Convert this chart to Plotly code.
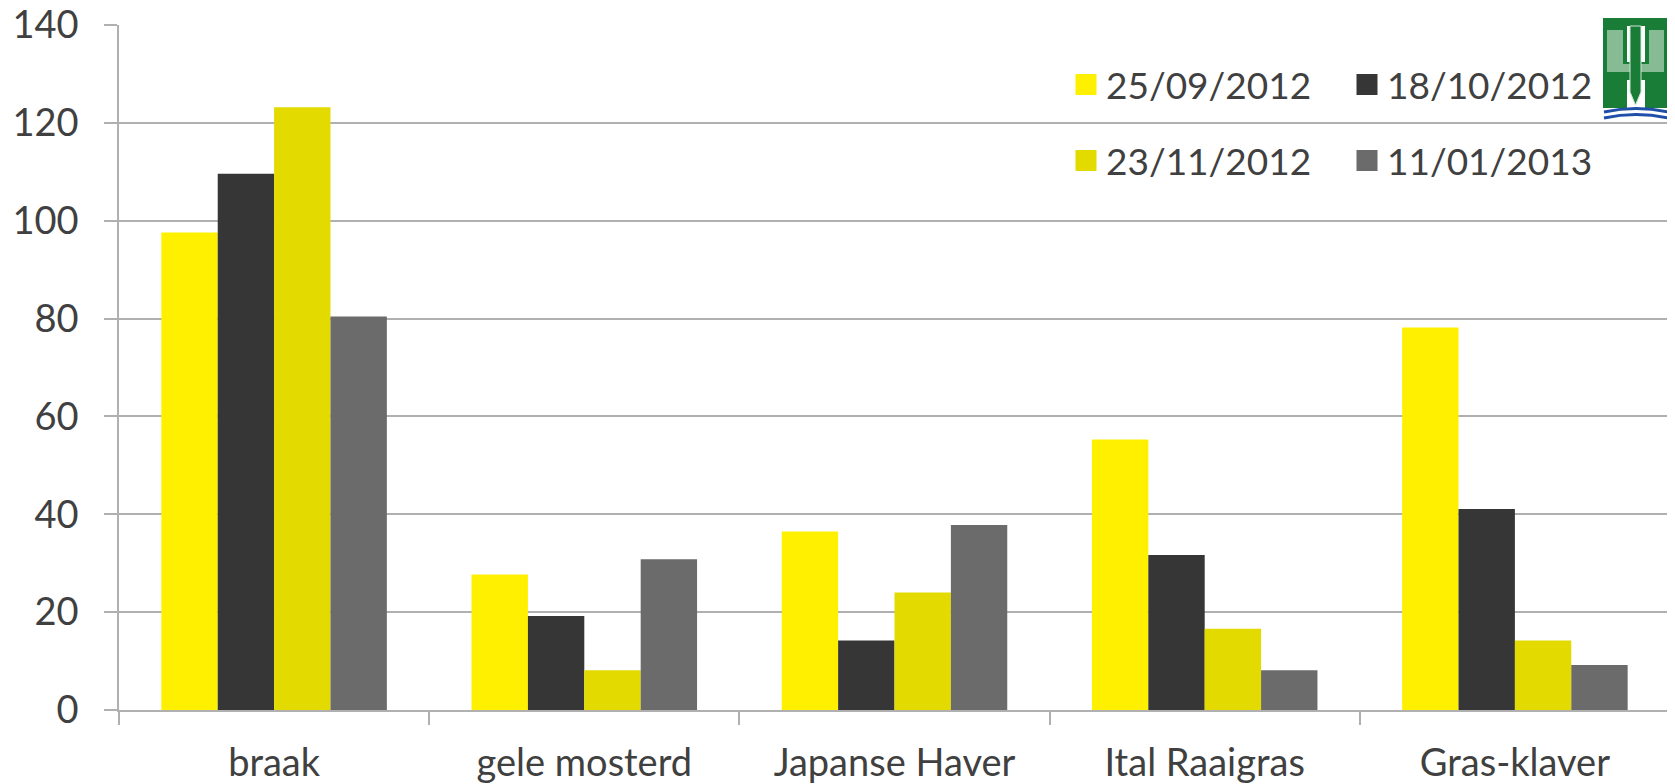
import plotly.graph_objects as go

categories = ["braak", "gele mosterd", "Japanse Haver", "Ital Raaigras", "Gras-klaver"]
series_names = ["25/09/2012", "18/10/2012", "23/11/2012", "11/01/2013"]
v_25_09_2012 = [97.6, 27.7, 36.5, 55.3, 78.2]
v_18_10_2012 = [109.6, 19.2, 14.2, 31.7, 41.1]
v_23_11_2012 = [123.2, 8.1, 24.0, 16.6, 14.2]
v_11_01_2013 = [80.4, 30.8, 37.8, 8.1, 9.2]
series_values = [v_25_09_2012, v_18_10_2012, v_23_11_2012, v_11_01_2013]
y_ticks = [0, 20, 40, 60, 80, 100, 120, 140]

colors = ["#FFF000", "#363636", "#E3DA00", "#6B6B6B"]
FONT = "Lato"
TXT = "#404040"
OFF = 8  # page body margin
W, H = 1675 - OFF, 784 - OFF
# plot area in screen pixels: x 119..1670, y 25..710
L, T = 119 - OFF, 25 - OFF
R = W - (1670 - OFF)
B = H - (710 - OFF)
PW, PH = W - L - R, H - T - B


def px(x):  # screen pixel -> paper
    return (x - OFF - L) / PW


def py(y):
    return (H - B - (y - OFF)) / PH


fig = go.Figure()
for name, vals, col in zip(series_names, series_values, colors):
    fig.add_trace(go.Bar(x=categories, y=vals, name=name, marker_color=col,
                         marker_line_width=0, showlegend=False))

legend_ids = ["legend", "legend2", "legend3", "legend4"]
legend_pos = [(1066, 85), (1347, 85), (1066, 161), (1347, 161)]
for name, col, lid in zip(series_names, colors, legend_ids):
    fig.add_trace(go.Scatter(x=[None], y=[None], mode="markers", name=name,
                             marker=dict(symbol="square", size=16, color=col,
                                         line=dict(color=col, width=5)),
                             legend=lid, showlegend=True))

legends = {}
for lid, (lx, ly) in zip(legend_ids, legend_pos):
    legends[lid] = dict(x=px(lx), y=py(ly), xanchor="left", yanchor="middle",
                        bgcolor="rgba(0,0,0,0)", borderwidth=0,
                        font=dict(family=FONT, size=37, color=TXT),
                        itemsizing="trace", itemwidth=30)

shapes = [
    dict(type="rect", xref="paper", yref="paper", x0=px(1052), x1=px(1675),
         y0=py(195), y1=py(40), fillcolor="white", line_width=0, layer="between"),
]

g_dark = "#1A7D37"
g_light = "#86BB93"


def rect(x0, y0, x1, y1, c):
    shapes.append(dict(type="rect", xref="paper", yref="paper", x0=px(x0), x1=px(x1),
                       y0=py(y1), y1=py(y0), fillcolor=c, line_width=0, layer="above"))


# logo: green H with pen nib and blue waves
rect(1603, 18, 1670, 26, g_dark)
rect(1603, 26, 1627, 108, g_dark)
rect(1645, 26, 1668, 108, g_dark)
rect(1627, 62, 1645, 80, g_dark)
rect(1607, 30, 1623, 72, g_light)
rect(1649, 30, 1664, 72, g_light)
rect(1607, 64, 1664, 72, g_light)
shapes.append(dict(type="path", xref="paper", yref="paper",
                   path=f"M {px(1630)},{py(26)} L {px(1641)},{py(26)} L {px(1641)},{py(92)} "
                        f"L {px(1635.5)},{py(105)} L {px(1630)},{py(92)} Z",
                   fillcolor=g_dark, line=dict(color="#CFE5D5", width=1), layer="above"))
for yy in (112, 118):
    shapes.append(dict(type="path", xref="paper", yref="paper",
                       path=f"M {px(1604)},{py(yy)} Q {px(1636)},{py(yy-7)} {px(1668)},{py(yy)}",
                       line=dict(color="#1F4FA8", width=3), layer="above"))

fig.update_layout(
    width=W, height=H,
    margin=dict(l=L, r=R, t=T, b=B, pad=0, autoexpand=False),
    paper_bgcolor="white", plot_bgcolor="white",
    barmode="group", bargap=0.273, bargroupgap=0,
    font=dict(family=FONT, size=38, color=TXT),
    shapes=shapes,
    **legends,
)
fig.update_xaxes(
    type="category", tickson="boundaries", ticks="outside", ticklen=13, tickwidth=1.5,
    tickcolor="#B0B0B0", showline=True, linecolor="#B0B0B0", linewidth=1.5,
    showgrid=False, tickfont=dict(family=FONT, size=38, color=TXT), ticklabelstandoff=19,
    automargin=False, ticklabeloverflow="allow",
)
fig.update_yaxes(
    range=[0, 140], tickvals=y_ticks, ticks="outside", ticklen=13, tickwidth=1.5,
    tickcolor="#B0B0B0", showline=True, linecolor="#B0B0B0", linewidth=1.5,
    showgrid=True, gridcolor="#B0B0B0", gridwidth=1.5, zeroline=False,
    tickfont=dict(family=FONT, size=38, color=TXT), ticklabelstandoff=18,
    automargin=False, ticklabeloverflow="allow",
)

fig.write_html("out.html")
